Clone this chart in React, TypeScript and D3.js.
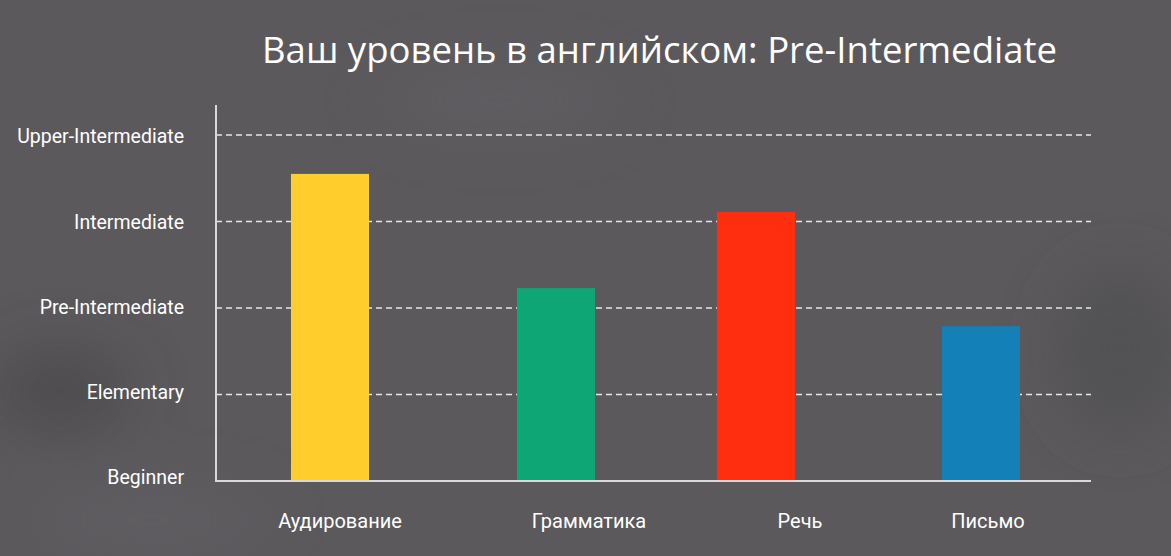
import React from "react";
import * as d3 from "d3";

const levels = ["Beginner", "Elementary", "Pre-Intermediate", "Intermediate", "Upper-Intermediate"];
const categories = ["Аудирование", "Грамматика", "Речь", "Письмо"];
const values = [3.55, 2.23, 3.11, 1.79];
const colors = ["#ffcd2c", "#0fa675", "#ff2e0e", "#1380b7"];
const title = "Ваш уровень в английском: Pre-Intermediate";

const W = 1171;
const H = 556;
const plotLeft = 216;
const plotRight = 1091;
const plotBottom = 481;
const plotTop = 105;
const barShift = [0, 9, -8, 0];
const labelShift = [10, 42, 36, 7];
const tickLabelShift = [-4, -2, -1, 1, 1];

export default function App() {
  const y = d3.scaleLinear().domain([0, 4]).range([plotBottom, 135]);
  const x = d3.scalePoint<string>().domain(categories).range([330, 981]);
  const barW = 78;

  return (
    <svg
      width={W}
      height={H}
      style={{ position: "fixed", left: 0, top: 0, display: "block" }}
      fontFamily="Roboto, sans-serif"
    >
      <defs>
        <filter id="blur" x="-50%" y="-50%" width="200%" height="200%">
          <feGaussianBlur stdDeviation="30" />
        </filter>
      </defs>
      <rect width={W} height={H} fill="#5b595c" />
      <g filter="url(#blur)" opacity={0.5}>
        <ellipse cx={60} cy={390} rx={70} ry={40} fill="#3f3e41" />
        <ellipse cx={1120} cy={350} rx={60} ry={80} fill="#4a494c" />
        <ellipse cx={500} cy={100} rx={120} ry={30} fill="#666468" />
        <ellipse cx={150} cy={520} rx={120} ry={30} fill="#656367" />
      </g>

      <text
        x={262}
        y={63}
        fill="#ffffff"
        fontSize={36}
        fontFamily="'Open Sans', sans-serif"
        textLength={795}
        lengthAdjust="spacingAndGlyphs"
      >
        {title}
      </text>

      {levels.map((l, i) =>
        i === 0 ? null : (
          <line
            key={"g" + l}
            x1={plotLeft}
            x2={plotRight}
            y1={y(i)}
            y2={y(i)}
            stroke="#e6e6e6"
            strokeWidth={1.5}
            strokeDasharray="6,4"
          />
        )
      )}

      {levels.map((l, i) => (
        <text
          key={"t" + l}
          x={184}
          y={y(i) + tickLabelShift[i]}
          dy="0.35em"
          textAnchor="end"
          fill="#ffffff"
          fontSize={19.5}
        >
          {l}
        </text>
      ))}

      {categories.map((c, i) => (
        <rect
          key={"b" + c}
          x={(x(c) as number) + barShift[i] - barW / 2}
          y={y(values[i])}
          width={barW}
          height={plotBottom - y(values[i])}
          fill={colors[i]}
        />
      ))}

      <line x1={plotLeft} x2={plotLeft} y1={plotTop} y2={plotBottom} stroke="#d9d9d9" strokeWidth={2} />
      <line x1={plotLeft - 1} x2={plotRight} y1={plotBottom} y2={plotBottom} stroke="#d9d9d9" strokeWidth={2} />

      {categories.map((c, i) => (
        <text
          key={"c" + c}
          x={(x(c) as number) + labelShift[i]}
          y={521}
          dy="0.35em"
          textAnchor="middle"
          fill="#ffffff"
          fontSize={20}
        >
          {c}
        </text>
      ))}
    </svg>
  );
}
